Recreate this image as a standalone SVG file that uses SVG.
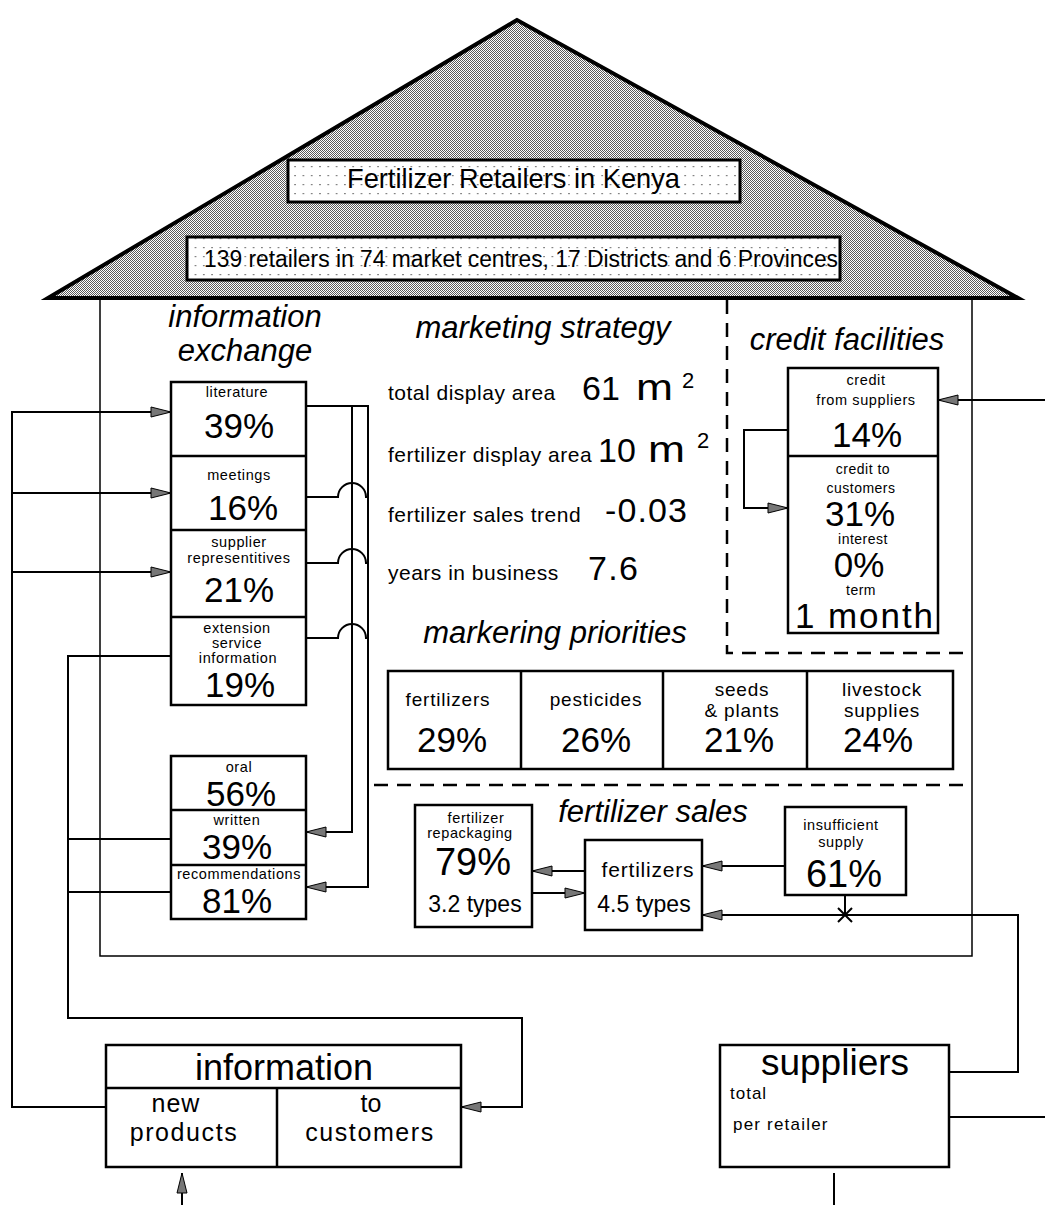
<svg xmlns="http://www.w3.org/2000/svg" width="1045" height="1205" viewBox="0 0 1045 1205">
<defs>
<style>
.t{font-family:"Liberation Sans",Arial,Helvetica,sans-serif;fill:#000}
.h{font-style:italic;font-size:31px}
.sm{font-size:14.5px;letter-spacing:0.6px}
.cs{font-size:14px;letter-spacing:0.5px}
.pc{font-size:35px}
.mid{font-size:19px;letter-spacing:0.8px}
.ms{font-size:21px;letter-spacing:0.5px}
.big{font-size:34px}
.c{text-anchor:middle}
.box{fill:#fff;stroke:#000;stroke-width:2.5}
.div{fill:none;stroke:#000;stroke-width:2.5}
.ln{fill:none;stroke:#000;stroke-width:2}
.wall{fill:none;stroke:#000;stroke-width:1.5}
.dash{fill:none;stroke:#000;stroke-width:2.5;stroke-dasharray:14 9}
.arr{marker-end:url(#ah)}
</style>
<pattern id="roof" patternUnits="userSpaceOnUse" width="2" height="2">
<rect width="2" height="2" fill="#fff"/>
<rect x="0" y="0" width="1" height="1" fill="#5a5a5a"/>
<rect x="1" y="1" width="1" height="1" fill="#5a5a5a"/>
</pattern>
<pattern id="dots" patternUnits="userSpaceOnUse" width="8.3" height="9">
<rect width="8.3" height="9" fill="#fff"/>
<rect x="4" y="4" width="1.2" height="1.2" fill="#444"/>
</pattern>
<marker id="ah" markerUnits="userSpaceOnUse" markerWidth="24" markerHeight="14" refX="21" refY="6" orient="auto">
<path d="M1,1 L21,6 L1,11 Z" fill="#777" stroke="#000" stroke-width="1"/>
</marker>
</defs>
<rect width="1045" height="1205" fill="#fff"/>

<g id="roof">
<polygon points="517,20 48,298 1018,298" fill="url(#roof)" stroke="#000" stroke-width="4"/>
<rect x="288" y="160" width="452" height="42" fill="url(#dots)" stroke="#000" stroke-width="3"/>
<text class="t c" x="513.5" y="188" font-size="28" textLength="333" lengthAdjust="spacingAndGlyphs">Fertilizer Retailers in Kenya</text>
<rect x="187" y="237" width="653" height="43" fill="url(#dots)" stroke="#000" stroke-width="3"/>
<text class="t" x="204" y="267" font-size="23" textLength="634" lengthAdjust="spacingAndGlyphs">139 retailers in 74 market centres, 17 Districts and 6 Provinces</text>
</g>

<g id="house">
<path class="wall" d="M100,298 V956 H972 V298"/>
<path class="dash" d="M727,300 V653 H972"/>
<path class="dash" d="M374,785 H972"/>
</g>

<g id="info-exchange-title">
<text class="t h c" x="245" y="327">information</text>
<text class="t h c" x="245" y="361">exchange</text>
</g>

<g id="info-sources">
<rect class="box" x="171" y="382" width="135" height="323"/>
<path class="div" d="M171,456 H306 M171,530 H306 M171,617 H306"/>
<text class="t sm c" x="237" y="397">literature</text>
<text class="t pc c" x="239" y="438">39%</text>
<text class="t sm c" x="239" y="480">meetings</text>
<text class="t pc c" x="243" y="520">16%</text>
<text class="t sm c" x="239" y="547">supplier</text>
<text class="t sm c" x="239" y="563">representitives</text>
<text class="t pc c" x="239" y="602">21%</text>
<text class="t sm c" x="237" y="633">extension</text>
<text class="t sm c" x="237" y="648">service</text>
<text class="t sm c" x="238" y="663">information</text>
<text class="t pc c" x="240" y="697">19%</text>
</g>

<g id="info-forms">
<rect class="box" x="171" y="756" width="135" height="163"/>
<path class="div" d="M171,810 H306 M171,865 H306"/>
<text class="t sm c" x="239" y="772">oral</text>
<text class="t pc c" x="241" y="806">56%</text>
<text class="t sm c" x="237" y="825">written</text>
<text class="t pc c" x="237" y="859">39%</text>
<text class="t sm c" x="239" y="879">recommendations</text>
<text class="t pc c" x="237" y="913">81%</text>
</g>

<g id="marketing-strategy">
<text class="t h c" x="543" y="338">marketing strategy</text>
<text class="t ms" x="388" y="400">total display area</text>
<text class="t big" x="582" y="400">61</text>
<text class="t" x="636" y="400" font-size="36" textLength="37" lengthAdjust="spacingAndGlyphs">m</text>
<text class="t" x="682" y="388" font-size="22">2</text>
<text class="t ms" x="388" y="462">fertilizer display area</text>
<text class="t big" x="598" y="462">10</text>
<text class="t" x="648" y="462" font-size="36" textLength="37" lengthAdjust="spacingAndGlyphs">m</text>
<text class="t" x="697" y="448" font-size="22">2</text>
<text class="t ms" x="388" y="522">fertilizer sales trend</text>
<text class="t big" x="605" y="522" textLength="82">-0.03</text>
<text class="t ms" x="388" y="580">years in business</text>
<text class="t big" x="588" y="580" textLength="50">7.6</text>
</g>

<g id="credit-facilities">
<text class="t h c" x="847" y="350">credit facilities</text>
<rect class="box" x="788" y="368" width="150" height="265"/>
<path class="div" d="M788,456 H938"/>
<text class="t sm c" x="866" y="385">credit</text>
<text class="t sm c" x="866" y="405">from suppliers</text>
<text class="t pc c" x="867" y="447">14%</text>
<text class="t cs c" x="863" y="474">credit to</text>
<text class="t cs c" x="861" y="493">customers</text>
<text class="t c" x="860" y="526" font-size="35">31%</text>
<text class="t cs c" x="863" y="544">interest</text>
<text class="t c" x="859" y="577" font-size="35">0%</text>
<text class="t cs c" x="861" y="595">term</text>
<text class="t c" x="864" y="628" font-size="35" textLength="138">1 month</text>
</g>

<g id="marketing-priorities">
<text class="t h c" x="555" y="643">markering priorities</text>
<rect class="box" x="388" y="671" width="565" height="98"/>
<path class="div" d="M521,671 V769 M663,671 V769 M807,671 V769"/>
<text class="t mid c" x="448" y="706">fertilizers</text>
<text class="t pc c" x="452" y="752">29%</text>
<text class="t mid c" x="596" y="706">pesticides</text>
<text class="t pc c" x="596" y="752">26%</text>
<text class="t mid c" x="742" y="696">seeds</text>
<text class="t mid c" x="742" y="717">&amp; plants</text>
<text class="t pc c" x="739" y="752">21%</text>
<text class="t mid c" x="882" y="696">livestock</text>
<text class="t mid c" x="882" y="717">supplies</text>
<text class="t pc c" x="878" y="752">24%</text>
</g>

<g id="fertilizer-sales-title">
<text class="t h c" x="653" y="822">fertilizer sales</text>
</g>

<g id="repackaging">
<rect class="box" x="415" y="805" width="117" height="122"/>
<text class="t sm c" x="476" y="823">fertilizer</text>
<text class="t sm c" x="470" y="838">repackaging</text>
<text class="t c" x="473" y="875" font-size="38">79%</text>
<text class="t c" x="475" y="912" font-size="23">3.2 types</text>
</g>

<g id="fertilizers">
<rect class="box" x="585" y="840" width="117" height="90"/>
<text class="t c" x="648" y="877" font-size="21" letter-spacing="0.8">fertilizers</text>
<text class="t c" x="644" y="912" font-size="23">4.5 types</text>
</g>

<g id="insufficient-supply">
<rect class="box" x="785" y="807" width="121" height="88"/>
<text class="t sm c" x="841" y="830">insufficient</text>
<text class="t sm c" x="841" y="847">supply</text>
<text class="t c" x="844" y="887" font-size="38">61%</text>
</g>

<g id="information">
<rect class="box" x="106" y="1045" width="355" height="122"/>
<path class="div" d="M106,1088 H461 M277,1088 V1167"/>
<text class="t c" x="284" y="1080" font-size="36">information</text>
<text class="t c" x="176" y="1112" font-size="25" letter-spacing="1">new</text>
<text class="t c" x="184" y="1141" font-size="25" letter-spacing="1.6">products</text>
<text class="t c" x="371" y="1112" font-size="25">to</text>
<text class="t c" x="370" y="1141" font-size="25" letter-spacing="1.6">customers</text>
</g>

<g id="suppliers">
<rect class="box" x="720" y="1045" width="229" height="122"/>
<text class="t c" x="835" y="1075" font-size="37">suppliers</text>
<text class="t" x="730" y="1099" font-size="17" letter-spacing="1">total</text>
<text class="t" x="733" y="1130" font-size="17" letter-spacing="1.2">per retailer</text>
</g>

<g id="connectors">
<path class="ln arr" d="M106,1107 H12 V412 H171"/>
<path class="ln arr" d="M12,493 H171"/>
<path class="ln arr" d="M12,572 H171"/>
<path class="ln arr" d="M171,656 H68 V1018 H522 V1107 H461"/>
<path class="ln" d="M171,839 H68"/>
<path class="ln" d="M171,892 H68"/>
<path class="ln arr" d="M306,406 H368 V887 H306"/>
<path class="ln arr" d="M352,406 V832 H306"/>
<path class="ln" d="M306,497 H338 A14,14 0 0 1 366,497 H368"/>
<path class="ln" d="M306,563 H338 A14,14 0 0 1 366,563 H368"/>
<path class="ln" d="M306,638 H338 A14,14 0 0 1 366,638 H368"/>
<path class="ln arr" d="M1045,400 H938"/>
<path class="ln arr" d="M788,430 H744 V508 H788"/>
<path class="ln arr" d="M585,871 H532"/>
<path class="ln arr" d="M532,893 H585"/>
<path class="ln arr" d="M785,866 H702"/>
<path class="ln arr" d="M949,1072 H1018 V915 H702"/>
<path class="ln" d="M845,895 V915"/>
<path class="ln" d="M838,908 L852,922 M852,908 L838,922"/>
<path class="ln" d="M949,1117 H1045"/>
<path class="ln" d="M834,1173 V1205"/>
<path class="ln arr" d="M182,1205 V1173"/>
</g>
</svg>
